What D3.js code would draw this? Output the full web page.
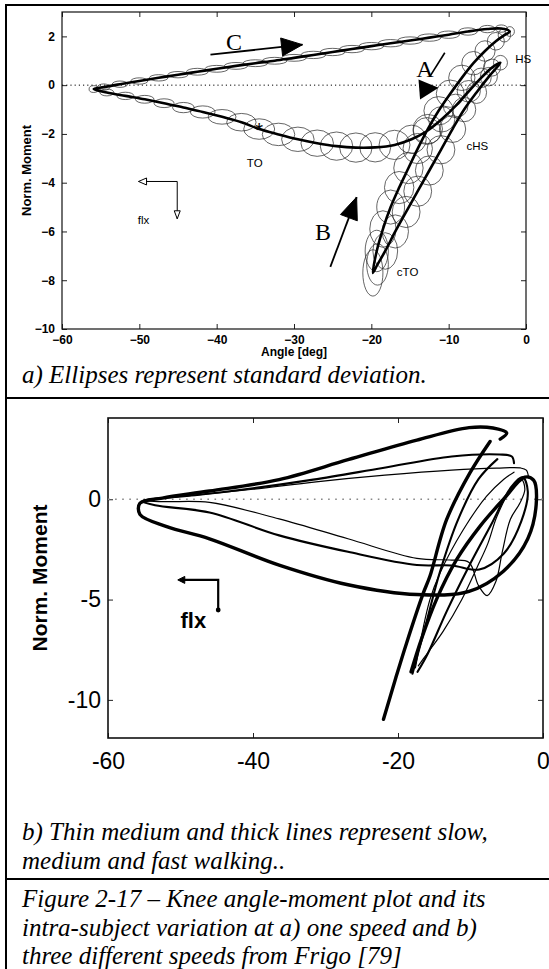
<!DOCTYPE html>
<html>
<head>
<meta charset="utf-8">
<script src="https://cdn.jsdelivr.net/npm/d3@7"></script>
<style>
  body { margin: 0; background: #fff; }
</style>
</head>
<body>
<script>
// ---- panel a: mean knee angle / moment loop with SD ellipses ----
const aAngle = [-19.8, -19.3, -18.5, -17.5, -16.4, -15.2, -14.0, -12.7, -11.3, -9.8, -8.3, -6.8, -5.3, -3.9, -2.8,
  -2.1, -3.2, -5.0, -7.5, -10.0, -12.5, -15.0, -17.5, -20.0, -22.5, -25.0, -27.5, -30.0, -32.5, -35.0, -37.5,
  -40.0, -42.5, -45.0, -47.5, -50.0, -52.5, -54.6, -55.9, -54.2, -51.8, -49.3, -46.8, -44.3, -41.8, -39.3,
  -36.8, -34.5, -32.0, -29.5, -27.0, -24.5, -22.0, -19.5, -17.0, -14.8, -12.8, -10.9, -9.1, -7.4, -5.8, -4.4,
  -3.3, -4.8, -6.4, -8.0, -9.5, -11.0, -12.5, -14.0, -15.5, -16.9, -18.2, -19.2];
const aMoment = [-7.7, -6.8, -5.9, -5.0, -4.2, -3.4, -2.6, -1.8, -1.05, -0.35, 0.3, 0.9, 1.4, 1.8, 2.05,
  2.2, 2.32, 2.3, 2.2, 2.07, 1.95, 1.83, 1.72, 1.6, 1.48, 1.36, 1.24, 1.12, 1.0, 0.9, 0.79,
  0.67, 0.55, 0.43, 0.3, 0.17, 0.04, -0.08, -0.16, -0.3, -0.44, -0.58, -0.74, -0.92, -1.1, -1.3,
  -1.52, -1.8, -2.02, -2.22, -2.38, -2.5, -2.56, -2.55, -2.45, -2.22, -1.88, -1.4, -0.85, -0.25, 0.3, 0.72,
  0.92, 0.35, -0.3, -1.0, -1.8, -2.65, -3.5, -4.35, -5.2, -6.0, -6.8, -7.35];
const aSdAngle = [1.3, 1.5, 1.7, 1.8, 1.9, 1.9, 1.9, 1.9, 1.9, 1.8, 1.7, 1.5, 1.3, 1.1, 0.8,
  0.6, 0.8, 1.0, 1.2, 1.4, 1.5, 1.6, 1.6, 1.6, 1.6, 1.6, 1.6, 1.6, 1.6, 1.6, 1.5,
  1.5, 1.4, 1.3, 1.2, 1.1, 1.0, 0.8, 0.6, 0.9, 1.1, 1.2, 1.3, 1.4, 1.6, 1.8,
  1.9, 2.0, 2.1, 2.1, 2.1, 2.1, 2.1, 2.0, 2.0, 1.9, 1.8, 1.7, 1.6, 1.5, 1.3, 1.1,
  0.9, 1.1, 1.3, 1.5, 1.7, 1.8, 1.8, 1.8, 1.8, 1.7, 1.6, 1.4];
const aSdMoment = [0.95, 0.85, 0.75, 0.7, 0.66, 0.64, 0.62, 0.6, 0.58, 0.56, 0.52, 0.48, 0.42, 0.36, 0.28,
  0.2, 0.15, 0.15, 0.15, 0.15, 0.15, 0.15, 0.15, 0.15, 0.15, 0.15, 0.15, 0.14, 0.14, 0.14, 0.14,
  0.14, 0.14, 0.13, 0.13, 0.13, 0.13, 0.13, 0.14, 0.14, 0.15, 0.16, 0.18, 0.21, 0.25, 0.3,
  0.36, 0.42, 0.46, 0.5, 0.54, 0.58, 0.6, 0.6, 0.6, 0.58, 0.55, 0.52, 0.48, 0.44, 0.4, 0.35,
  0.3, 0.38, 0.45, 0.5, 0.55, 0.58, 0.6, 0.62, 0.64, 0.68, 0.75, 0.85];

const aXTicks = [-60, -50, -40, -30, -20, -10, 0];
const aYTicks = [-10, -8, -6, -4, -2, 0, 2];

// annotations of panel a, in data units
const aArrowC = [[-40.8, 1.25], [-28.9, 1.66]];
const aArrowB = [[-25.3, -7.45], [-21.9, -4.59]];
const aSlashA = [[-10.5, 1.33], [-12.4, 0.37]];
const aHeadA = [[-13.9, 0.23], [-11.3, -0.11], [-13.7, -0.59]];
const aFlx = [[-50.1, -3.95], [-45.1, -3.95], [-45.1, -5.48]];
const aLetters = [["C", -38.8, 1.45], ["A", -14.2, 0.34], ["B", -27.3, -6.36]];
const aEvents = [["TO", -36.1, -3.37], ["cHS", -7.7, -2.65], ["HS", -1.4, 0.91], ["cTO", -16.7, -7.81], ["flx", -50.2, -5.68]];
const aToMark = [-34.5, -1.8];

// ---- panel b: three walking speeds ----
const bFastLoop = [[-5.9, 3.0], [-5.0, 3.3], [-6.9, 3.55], [-10.2, 3.57], [-17.4, 2.95], [-26.9, 1.97], [-36.4, 0.98],
  [-46, 0.41], [-52.5, 0.06], [-55.6, -0.2], [-55.6, -0.75], [-51.9, -1.36], [-46, -1.97], [-36.4, -3.28],
  [-26.9, -4.26], [-17.4, -4.75], [-10.2, -4.59], [-5.5, -3.6], [-2.1, -1.97], [-0.9, 0.0], [-1.3, 0.95],
  [-2.5, 1.1], [-5.5, -0.02], [-8.7, -1.35], [-11.9, -3.0], [-14.7, -5.0], [-16.8, -7.0], [-18.2, -8.6]];
const bFastLeg = [[-22, -10.97], [-20.3, -8.9], [-18.8, -7.15], [-16.5, -4.67], [-15.6, -3.84], [-13.3, -1.02],
  [-10.1, 1.3], [-7.3, 2.88]];
const bMedLoop = [[-4.0, 1.8], [-4.3, 2.13], [-6, 2.23], [-12.6, 2.13], [-22.1, 1.56], [-31.7, 0.98], [-40, 0.55],
  [-48, 0.2], [-53.5, 0.02], [-55.3, -0.1], [-53.5, -0.3], [-46, -0.66], [-36.4, -1.8], [-26.9, -2.62],
  [-17.4, -3.28], [-12.6, -3.3], [-8.8, -3.5], [-5.4, -2.7], [-3.0, -1.1], [-2.1, 0.4], [-2.8, 1.1], [-4.4, 0.6],
  [-7.2, -1.3], [-10.3, -3.4], [-13.3, -5.6], [-15.9, -7.7], [-17.3, -8.6]];
const bMedLeg = [[-18.0, -8.7], [-16.2, -6.3], [-14.2, -3.6], [-11.7, -1.0], [-8.9, 1.0], [-6.3, 2.0]];
const bSlowLoop = [[-2.0, 1.1], [-2.3, 1.45], [-3.1, 1.56], [-6.4, 1.55], [-12.6, 1.45], [-21.8, 1.2], [-31.3, 0.87],
  [-40, 0.5], [-48, 0.2], [-54, 0.0], [-54.5, -0.08], [-52, -0.12], [-46, -0.16], [-36.4, -0.98], [-26.9, -1.97],
  [-17.4, -2.95], [-12.6, -3.03], [-10.2, -3.15], [-8.9, -4.3], [-7.7, -4.8], [-6.5, -4.1], [-5.6, -2.6],
  [-4.5, -1.0], [-3.2, -0.2], [-2.5, 0.5], [-3.0, 1.0], [-4.6, 0.4], [-6.4, -0.9], [-7.6, -2.2], [-9.1, -3.4],
  [-11.2, -5.0], [-13.8, -6.6], [-16.2, -7.8], [-17.2, -8.3]];
const bSlowLeg = [[-17.6, -8.4], [-15.6, -5.0], [-14.2, -3.67], [-11, -1.52], [-7.8, 0.14], [-5.4, 1.0], [-4.0, 1.35]];

const bXTicks = [-60, -40, -20, 0];
const bYTicks = [-10, -5, 0];
const bFlx = [[-50.1, -4.02], [-44.8, -4.02], [-44.8, -5.52]];

// caption lines
const captionA = ["a) Ellipses represent standard deviation."];
const captionB = ["b) Thin medium and thick lines represent slow,", "medium and fast walking.."];
const captionFig = ["Figure 2-17 \u2013 Knee angle-moment plot and its",
  "intra-subject variation at a) one speed and b)",
  "three different speeds from Frigo [79]"];

const width = 549;
const height = 969;
const sans = "'Liberation Sans', Arial, sans-serif";
const serif = "'Liberation Serif', 'Times New Roman', serif";
const minusFmt = d => d < 0 ? "\u2212" + Math.abs(d) : String(d);

const svg = d3.select("body").append("svg")
  .attr("width", width)
  .attr("height", height)
  .style("display", "block");

svg.append("rect").attr("width", width).attr("height", height).attr("fill", "#fff");

// filled triangle with its tip at (x2,y2), pointing away from (x1,y1)
function arrowHead(g, x1, y1, x2, y2, len, half, fill) {
  const a = Math.atan2(y2 - y1, x2 - x1);
  const bx = x2 - len * Math.cos(a), by = y2 - len * Math.sin(a);
  const pts = [[x2, y2],
    [bx + half * Math.sin(a), by - half * Math.cos(a)],
    [bx - half * Math.sin(a), by + half * Math.cos(a)]];
  g.append("path")
    .attr("d", "M" + pts.join("L") + "Z")
    .attr("fill", fill)
    .attr("stroke", "#000")
    .attr("stroke-width", 1);
}

function styleAxis(g, size, weight) {
  g.attr("font-family", sans).attr("font-size", size).attr("font-weight", weight);
  g.select(".domain").remove();
  g.selectAll(".tick line").attr("stroke", "#222");
}

// ================= panel a =================
const axA = d3.scaleLinear([-60, 0], [62, 526]);
const ayA = d3.scaleLinear([-10, 3], [329, 12]);
const ga = svg.append("g");

ga.append("g")
  .attr("transform", `translate(0,${ayA(-10)})`)
  .call(d3.axisBottom(axA).tickValues(aXTicks).tickSizeInner(-5).tickSizeOuter(0).tickPadding(6).tickFormat(minusFmt))
  .call(g => styleAxis(g, 12, "bold"));
ga.append("g")
  .attr("transform", `translate(0,${ayA(3)})`)
  .call(d3.axisTop(axA).tickValues(aXTicks).tickSizeInner(-5).tickSizeOuter(0).tickFormat(""))
  .call(g => styleAxis(g, 12, "bold"));
ga.append("g")
  .attr("transform", `translate(${axA(-60)},0)`)
  .call(d3.axisLeft(ayA).tickValues(aYTicks).tickSizeInner(-5).tickSizeOuter(0).tickPadding(7).tickFormat(minusFmt))
  .call(g => styleAxis(g, 12, "bold"));
ga.append("g")
  .attr("transform", `translate(${axA(0)},0)`)
  .call(d3.axisRight(ayA).tickValues(aYTicks).tickSizeInner(-5).tickSizeOuter(0).tickFormat(""))
  .call(g => styleAxis(g, 12, "bold"));

ga.append("rect")
  .attr("x", axA(-60)).attr("y", ayA(3))
  .attr("width", axA(0) - axA(-60)).attr("height", ayA(-10) - ayA(3))
  .attr("fill", "none").attr("stroke", "#111").attr("stroke-width", 1.2);

ga.append("line")
  .attr("x1", axA(-60)).attr("x2", axA(0))
  .attr("y1", ayA(0)).attr("y2", ayA(0))
  .attr("stroke", "#000").attr("stroke-width", 1)
  .attr("stroke-dasharray", "1.2,3");

ga.append("text")
  .attr("x", (axA(-60) + axA(0)) / 2).attr("y", 356)
  .attr("text-anchor", "middle")
  .attr("font-family", sans).attr("font-size", 12).attr("font-weight", "bold")
  .text("Angle [deg]");

ga.append("text")
  .attr("transform", `translate(31,${(ayA(3) + ayA(-10)) / 2}) rotate(-90)`)
  .attr("text-anchor", "middle")
  .attr("font-family", sans).attr("font-size", 13).attr("font-weight", "bold")
  .text("Norm. Moment");

// SD ellipses
const idx = d3.range(aAngle.length);
ga.append("g")
  .selectAll("ellipse")
  .data(idx)
  .join("ellipse")
  .attr("cx", i => axA(aAngle[i]))
  .attr("cy", i => ayA(aMoment[i]))
  .attr("rx", i => axA(aAngle[i] + aSdAngle[i]) - axA(aAngle[i]))
  .attr("ry", i => ayA(aMoment[i]) - ayA(aMoment[i] + aSdMoment[i]))
  .attr("fill", "none")
  .attr("stroke", "#2a2a2a")
  .attr("stroke-opacity", 0.8)
  .attr("stroke-width", 0.9);

// mean curve
const meanLine = d3.line()
  .x(i => axA(aAngle[i]))
  .y(i => ayA(aMoment[i]))
  .curve(d3.curveCatmullRomClosed.alpha(0.5));

ga.append("path")
  .datum(idx)
  .attr("d", meanLine)
  .attr("fill", "none")
  .attr("stroke", "#000")
  .attr("stroke-width", 2.6)
  .attr("stroke-linejoin", "round");

// TO marker
ga.append("text")
  .attr("x", axA(aToMark[0])).attr("y", ayA(aToMark[1]) + 8)
  .attr("text-anchor", "middle")
  .attr("font-family", sans).attr("font-size", 20)
  .text("*");

// event labels
ga.selectAll("text.event")
  .data(aEvents)
  .join("text")
  .attr("class", "event")
  .attr("x", d => axA(d[1])).attr("y", d => ayA(d[2]))
  .attr("font-family", sans).attr("font-size", 11.5)
  .text(d => d[0]);

// flexion direction arrows (open heads)
ga.append("path")
  .attr("d", d3.line()(aFlx.map(d => [axA(d[0]), ayA(d[1])])))
  .attr("fill", "none").attr("stroke", "#000").attr("stroke-width", 1);
arrowHead(ga, axA(aFlx[1][0]), ayA(aFlx[1][1]), axA(aFlx[0][0]), ayA(aFlx[0][1]), 8, 3.5, "#fff");
arrowHead(ga, axA(aFlx[1][0]), ayA(aFlx[1][1]), axA(aFlx[2][0]), ayA(aFlx[2][1]), 8, 3, "#fff");

// big arrows A, B, C
ga.append("line")
  .attr("x1", axA(aArrowC[0][0])).attr("y1", ayA(aArrowC[0][1]))
  .attr("x2", axA(aArrowC[1][0])).attr("y2", ayA(aArrowC[1][1]))
  .attr("stroke", "#000").attr("stroke-width", 1.8);
arrowHead(ga, axA(aArrowC[0][0]), ayA(aArrowC[0][1]), axA(aArrowC[1][0]), ayA(aArrowC[1][1]), 21, 9, "#000");

ga.append("line")
  .attr("x1", axA(aArrowB[0][0])).attr("y1", ayA(aArrowB[0][1]))
  .attr("x2", axA(aArrowB[1][0])).attr("y2", ayA(aArrowB[1][1]))
  .attr("stroke", "#000").attr("stroke-width", 1.8);
arrowHead(ga, axA(aArrowB[0][0]), ayA(aArrowB[0][1]), axA(aArrowB[1][0]), ayA(aArrowB[1][1]), 22, 9, "#000");

ga.append("line")
  .attr("x1", axA(aSlashA[0][0])).attr("y1", ayA(aSlashA[0][1]))
  .attr("x2", axA(aSlashA[1][0])).attr("y2", ayA(aSlashA[1][1]))
  .attr("stroke", "#000").attr("stroke-width", 1.6);
ga.append("path")
  .attr("d", d3.line()(aHeadA.map(d => [axA(d[0]), ayA(d[1])])) + "Z")
  .attr("fill", "#000");

ga.selectAll("text.letter")
  .data(aLetters)
  .join("text")
  .attr("class", "letter")
  .attr("x", d => axA(d[1])).attr("y", d => ayA(d[2]))
  .attr("font-family", serif).attr("font-size", 24)
  .text(d => d[0]);

// ================= panel b =================
const axB = d3.scaleLinear([-60, 0], [108, 543]);
const ayB = d3.scaleLinear([-11.9, 4.05], [738, 418]);
const gb = svg.append("g");
const hyphenFmt = d => d < 0 ? "-" + Math.abs(d) : String(d);

gb.append("g")
  .attr("transform", `translate(0,${ayB(-11.9)})`)
  .call(d3.axisBottom(axB).tickValues(bXTicks).tickSizeInner(-5).tickSizeOuter(0).tickPadding(15).tickFormat(hyphenFmt))
  .call(g => styleAxis(g, 23, "normal"));
gb.append("g")
  .attr("transform", `translate(0,${ayB(4.05)})`)
  .call(d3.axisTop(axB).tickValues(bXTicks).tickSizeInner(-5).tickSizeOuter(0).tickFormat(""))
  .call(g => styleAxis(g, 23, "normal"));
gb.append("g")
  .attr("transform", `translate(${axB(-60)},0)`)
  .call(d3.axisLeft(ayB).tickValues(bYTicks).tickSizeInner(-5).tickSizeOuter(0).tickPadding(7).tickFormat(hyphenFmt))
  .call(g => styleAxis(g, 23, "normal"));
gb.append("g")
  .attr("transform", `translate(${axB(0)},0)`)
  .call(d3.axisRight(ayB).tickValues(bYTicks).tickSizeInner(-5).tickSizeOuter(0).tickFormat(""))
  .call(g => styleAxis(g, 23, "normal"));

gb.append("rect")
  .attr("x", axB(-60)).attr("y", ayB(4.05))
  .attr("width", axB(0) - axB(-60)).attr("height", ayB(-11.9) - ayB(4.05))
  .attr("fill", "none").attr("stroke", "#111").attr("stroke-width", 1.6);

gb.append("line")
  .attr("x1", axB(-60)).attr("x2", axB(0))
  .attr("y1", ayB(0)).attr("y2", ayB(0))
  .attr("stroke", "#888").attr("stroke-width", 1.6)
  .attr("stroke-dasharray", "1.6,5.5");

gb.append("text")
  .attr("transform", `translate(47,${(ayB(4.05) + ayB(-11.9)) / 2}) rotate(-90)`)
  .attr("text-anchor", "middle")
  .attr("font-family", sans).attr("font-size", 21).attr("font-weight", "bold")
  .text("Norm. Moment");

const speedLine = d3.line()
  .x(d => axB(d[0]))
  .y(d => ayB(d[1]))
  .curve(d3.curveCatmullRom.alpha(0.5));

const speeds = [
  { pts: bSlowLoop, w: 1.2 }, { pts: bSlowLeg, w: 1.2 },
  { pts: bMedLoop, w: 2.1 }, { pts: bMedLeg, w: 2.1 },
  { pts: bFastLoop, w: 3.4 }, { pts: bFastLeg, w: 3.4 }
];
gb.selectAll("path.speed")
  .data(speeds)
  .join("path")
  .attr("class", "speed")
  .attr("d", d => speedLine(d.pts))
  .attr("fill", "none")
  .attr("stroke", "#000")
  .attr("stroke-width", d => d.w)
  .attr("stroke-linecap", "round")
  .attr("stroke-linejoin", "round");

// flexion direction marker
gb.append("path")
  .attr("d", d3.line()(bFlx.map(d => [axB(d[0]), ayB(d[1])])))
  .attr("fill", "none").attr("stroke", "#000").attr("stroke-width", 2.2);
arrowHead(gb, axB(bFlx[1][0]), ayB(bFlx[1][1]), axB(bFlx[0][0]) - 2, ayB(bFlx[0][1]), 7, 3.5, "#000");
gb.append("circle")
  .attr("cx", axB(bFlx[2][0])).attr("cy", ayB(bFlx[2][1]))
  .attr("r", 2.4).attr("fill", "#000");
gb.append("text")
  .attr("x", axB(-50.0)).attr("y", 628)
  .attr("font-family", sans).attr("font-size", 22).attr("font-weight", "bold")
  .text("flx");

// ================= table rules and captions =================
const rules = svg.append("g").attr("stroke", "#000").attr("stroke-width", 2);
rules.append("line").attr("x1", 5).attr("x2", width).attr("y1", 5).attr("y2", 5);
rules.append("line").attr("x1", 6).attr("x2", 6).attr("y1", 4).attr("y2", height);
rules.append("line").attr("x1", 5).attr("x2", width).attr("y1", 398).attr("y2", 398);
rules.append("line").attr("x1", 5).attr("x2", width).attr("y1", 879).attr("y2", 879);

function caption(lines, y0, step) {
  svg.append("g")
    .selectAll("text")
    .data(lines)
    .join("text")
    .attr("x", 22)
    .attr("y", (d, i) => y0 + i * step)
    .attr("font-family", serif)
    .attr("font-style", "italic")
    .attr("font-size", 25)
    .text(d => d);
}
caption(captionA, 383, 29);
caption(captionB, 840, 29);
caption(captionFig, 907, 28.5);
</script>
</body>
</html>
